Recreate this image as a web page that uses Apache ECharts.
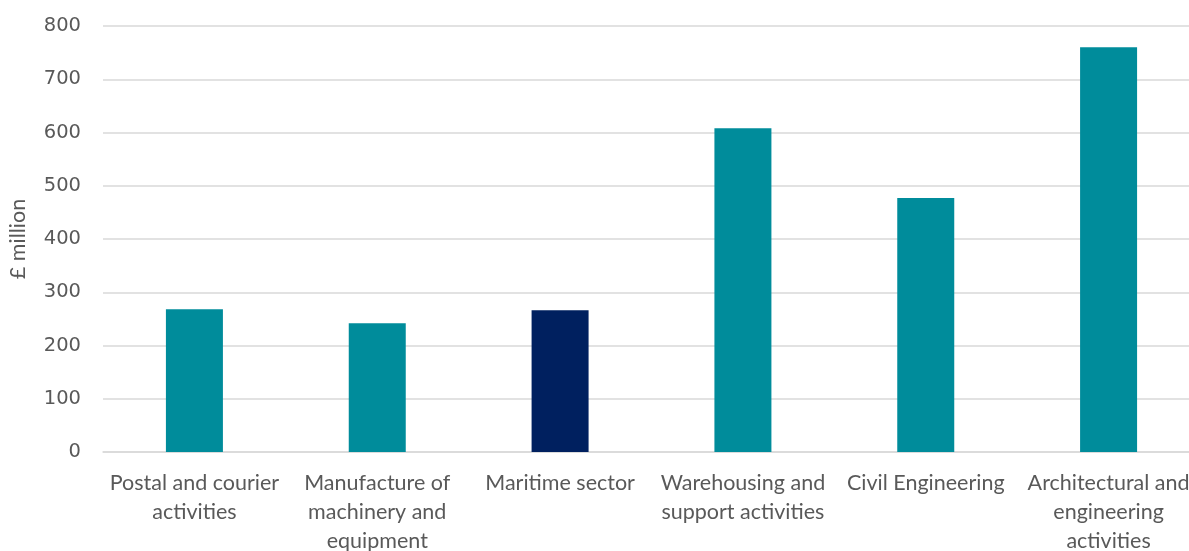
<!DOCTYPE html>
<html>
<head>
<meta charset="utf-8">
<script src="https://cdn.jsdelivr.net/npm/echarts@6/dist/echarts.min.js"></script>
<style>html,body{margin:0;padding:0;background:#fff}#c{width:1189px;height:551px}</style>
</head>
<body>
<div id="c"></div>
<script>
const categories = [
  'Postal and courier\nactivities',
  'Manufacture of\nmachinery and\nequipment',
  'Maritime sector',
  'Warehousing and\nsupport activities',
  'Civil Engineering',
  'Architectural and\nengineering\nactivities'
];
const values = [268, 242, 266, 608, 477, 760];
const highlightIndex = 2;
const yTicks = { min: 0, max: 800, interval: 100 };
const yAxisName = '£ million';

const chart = echarts.init(document.getElementById('c'), null, { renderer: 'canvas' });
chart.setOption({
  animation: false,
  backgroundColor: '#ffffff',
  grid: { left: 103, top: 26, width: 1097, height: 426, containLabel: false, outerBoundsMode: 'none' },
  xAxis: {
    type: 'category',
    data: categories,
    axisLine: { show: true, lineStyle: { color: '#d9d9d9', width: 1.5 } },
    axisTick: { show: false },
    axisLabel: {
      interval: 0,
      color: '#595959',
      fontFamily: 'Lato',
      fontSize: 21.5,
      lineHeight: 29,
      margin: 17,
      align: 'center',
      hideOverlap: false
    }
  },
  yAxis: {
    type: 'value',
    min: yTicks.min, max: yTicks.max, interval: yTicks.interval,
    name: yAxisName,
    nameLocation: 'middle',
    nameRotate: 90,
    nameGap: 74,
    nameTextStyle: { color: '#595959', fontFamily: 'Lato', fontSize: 21.5 },
    axisLine: { show: false },
    axisTick: { show: false },
    axisLabel: { color: '#595959', fontFamily: 'DejaVu Sans', fontSize: 19.5, margin: 22 },
    splitLine: { lineStyle: { color: '#d9d9d9', width: 1.5 } }
  },
  series: [{
    type: 'bar',
    barWidth: 57,
    data: values.map((v, i) => ({
      value: v,
      itemStyle: { color: i === highlightIndex ? '#00205f' : '#008c9b' }
    }))
  }]
});
</script>
</body>
</html>
